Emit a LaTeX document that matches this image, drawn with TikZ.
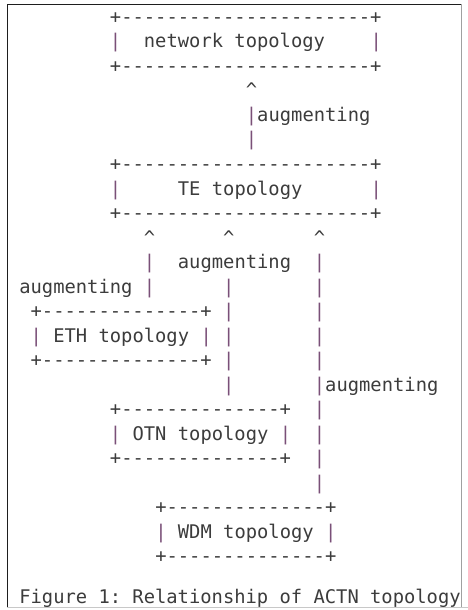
\documentclass[tikz,border=0pt]{standalone}
\usepackage{fontspec}
\setmonofont{DejaVu Sans Mono}
\definecolor{ink}{HTML}{3C3C3C}
\definecolor{bar}{HTML}{7A5078}
\definecolor{frame}{HTML}{1E1E1E}
\definecolor{sideframe}{HTML}{A0A0A0}
\definecolor{rule}{HTML}{C8C8C8}
\newcommand\glyphat[5][cell]{\node[#1] (#2) at ({19.3+#3*11.33},{23.3+(#4-1)*24.53}) {#5};}
\newcommand\dashline[1]{+#1+}
\begin{document}
\begin{tikzpicture}[x=1pt,y=-1pt,
  cell/.style={anchor=base west,inner sep=0pt,outer sep=0pt,
    font=\ttfamily\fontsize{18.8}{24.5}\selectfont,text=ink},
  barc/.style={cell,text=bar}]
\useasboundingbox (0,0) rectangle (468,610);
\draw[frame,line width=1pt] (7.3,607) -- (7.3,4.3) -- (461,4.3);
\draw[sideframe,line width=0.8pt] (461,4.3) -- (461,607.5);
\draw[rule,line width=1pt] (7.3,607.9) -- (468,607.9);
% network topology box
\glyphat{nt1}{8}{1}{\dashline{----------------------}}
\glyphat[barc]{nt2l}{8}{2}{|}
\glyphat{nt}{11}{2}{network topology}
\glyphat[barc]{nt2r}{31}{2}{|}
\glyphat{nt3}{8}{3}{\dashline{----------------------}}
% augmenting network <- TE
\glyphat{a1h}{20}{4}{\textasciicircum}
\glyphat[barc]{a1b1}{20}{5}{|}
\glyphat{a1t}{21}{5}{augmenting}
\glyphat[barc]{a1b2}{20}{6}{|}
% TE topology box
\glyphat{te1}{8}{7}{\dashline{----------------------}}
\glyphat[barc]{te2l}{8}{8}{|}
\glyphat{te}{14}{8}{TE topology}
\glyphat[barc]{te2r}{31}{8}{|}
\glyphat{te3}{8}{9}{\dashline{----------------------}}
% arrow heads
\glyphat{hE}{11}{10}{\textasciicircum}
\glyphat{hO}{18}{10}{\textasciicircum}
\glyphat{hW}{26}{10}{\textasciicircum}
% row 11
\glyphat[barc]{bE11}{11}{11}{|}
\glyphat{aO}{14}{11}{augmenting}
\glyphat[barc]{bW11}{26}{11}{|}
% row 12
\glyphat{aE}{0}{12}{augmenting}
\glyphat[barc]{bE12}{11}{12}{|}
\glyphat[barc]{bO12}{18}{12}{|}
\glyphat[barc]{bW12}{26}{12}{|}
% ETH box
\glyphat{eth1}{1}{13}{\dashline{--------------}}
\glyphat[barc]{bO13}{18}{13}{|}
\glyphat[barc]{bW13}{26}{13}{|}
\glyphat[barc]{eth2l}{1}{14}{|}
\glyphat{eth}{3}{14}{ETH topology}
\glyphat[barc]{eth2r}{16}{14}{|}
\glyphat[barc]{bO14}{18}{14}{|}
\glyphat[barc]{bW14}{26}{14}{|}
\glyphat{eth3}{1}{15}{\dashline{--------------}}
\glyphat[barc]{bO15}{18}{15}{|}
\glyphat[barc]{bW15}{26}{15}{|}
% row 16
\glyphat[barc]{bO16}{18}{16}{|}
\glyphat[barc]{bW16}{26}{16}{|}
\glyphat{aW}{27}{16}{augmenting}
% OTN box
\glyphat{otn1}{8}{17}{\dashline{--------------}}
\glyphat[barc]{bW17}{26}{17}{|}
\glyphat[barc]{otn2l}{8}{18}{|}
\glyphat{otn}{10}{18}{OTN topology}
\glyphat[barc]{otn2r}{23}{18}{|}
\glyphat[barc]{bW18}{26}{18}{|}
\glyphat{otn3}{8}{19}{\dashline{--------------}}
\glyphat[barc]{bW19}{26}{19}{|}
\glyphat[barc]{bW20}{26}{20}{|}
% WDM box
\glyphat{wdm1}{12}{21}{\dashline{--------------}}
\glyphat[barc]{wdm2l}{12}{22}{|}
\glyphat{wdm}{14}{22}{WDM topology}
\glyphat[barc]{wdm2r}{27}{22}{|}
\glyphat{wdm3}{12}{23}{\dashline{--------------}}
% caption
\node[cell] (cap) at ({19.3},603) {Figure 1: Relationship of ACTN topology};
\end{tikzpicture}
\end{document}
